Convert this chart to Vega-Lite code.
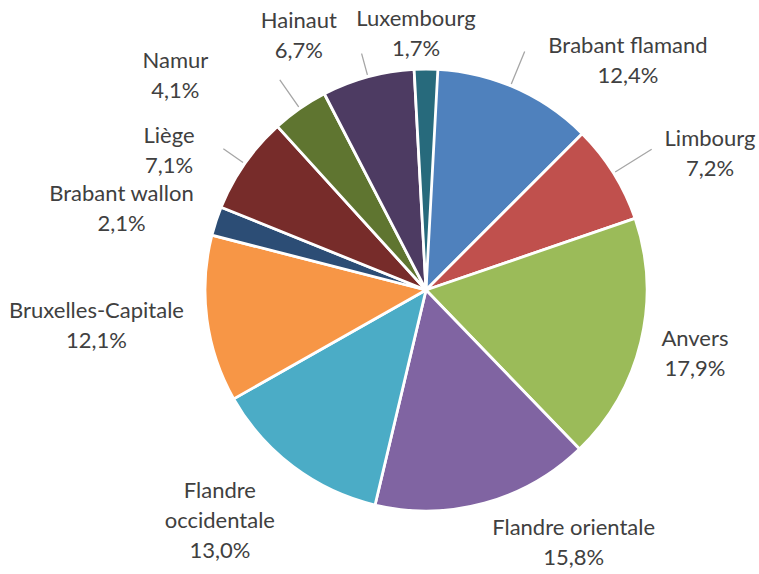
{
  "$schema": "https://vega.github.io/schema/vega-lite/v6.json",
  "autosize": {"type": "none"},
  "width": 440,
  "height": 440,
  "padding": {"left": 206, "top": 70, "right": 113, "bottom": 64},
  "background": "white",
  "config": {
    "view": {"stroke": null},
    "text": {"font": "Lato", "fontSize": 22, "fill": "#404040", "lineBreak": "|", "lineHeight": 30, "align": "center", "baseline": "middle"}
  },
  "data": {
    "values": [
      {"i": 1, "region": "Brabant flamand", "value": 12.4},
      {"i": 2, "region": "Limbourg", "value": 7.2},
      {"i": 3, "region": "Anvers", "value": 17.9},
      {"i": 4, "region": "Flandre orientale", "value": 15.8},
      {"i": 5, "region": "Flandre occidentale", "value": 13.0},
      {"i": 6, "region": "Bruxelles-Capitale", "value": 12.1},
      {"i": 7, "region": "Brabant wallon", "value": 2.1},
      {"i": 8, "region": "Liège", "value": 7.1},
      {"i": 9, "region": "Namur", "value": 4.1},
      {"i": 10, "region": "Hainaut", "value": 6.7},
      {"i": 11, "region": "Luxembourg", "value": 1.7}
    ]
  },
  "transform": [
    {"stack": "value", "groupby": [], "sort": [{"field": "i", "order": "ascending"}], "as": ["v0", "v1"]},
    {"calculate": "(datum.v0 + datum.v1) / 2", "as": "mid"},
    {"calculate": "(datum.region === 'Flandre occidentale' ? 'Flandre|occidentale' : datum.region) + '|' + replace(format(datum.value, '.1f'), '.', ',') + '%'", "as": "label"}
  ],
  "layer": [
    {
      "mark": {"type": "arc", "radius": 221, "stroke": "white", "strokeWidth": 2.8},
      "encoding": {
        "theta": {"field": "v0", "type": "quantitative", "stack": null, "scale": {"nice": false}},
        "theta2": {"field": "v1"},
        "color": {
          "field": "region", "type": "nominal", "legend": null,
          "scale": {
            "domain": ["Brabant flamand", "Limbourg", "Anvers", "Flandre orientale", "Flandre occidentale", "Bruxelles-Capitale", "Brabant wallon", "Liège", "Namur", "Hainaut", "Luxembourg"],
            "range": ["#4F81BD", "#C0504D", "#9BBB59", "#8064A2", "#4BACC6", "#F79646", "#2C4D75", "#772C2A", "#5F7530", "#4D3B62", "#276A7C"]
          }
        }
      }
    },
    {"transform": [{"filter": "datum.region === 'Brabant flamand'"}], "mark": {"type": "arc", "filled": false, "color": "#A6A6A6", "strokeWidth": 1.3, "radius": 258, "radius2": 223}, "encoding": {"theta": {"field": "mid", "type": "quantitative", "stack": null}, "theta2": {"field": "mid"}}},
    {"transform": [{"filter": "datum.region === 'Limbourg'"}], "mark": {"type": "arc", "filled": false, "color": "#A6A6A6", "strokeWidth": 1.3, "radius": 266, "radius2": 223}, "encoding": {"theta": {"field": "mid", "type": "quantitative", "stack": null}, "theta2": {"field": "mid"}}},
    {"transform": [{"filter": "datum.region === 'Liège'"}], "mark": {"type": "arc", "filled": false, "color": "#A6A6A6", "strokeWidth": 1.3, "radius": 247, "radius2": 223}, "encoding": {"theta": {"field": "mid", "type": "quantitative", "stack": null}, "theta2": {"field": "mid"}}},
    {"transform": [{"filter": "datum.region === 'Namur'"}], "mark": {"type": "arc", "filled": false, "color": "#A6A6A6", "strokeWidth": 1.3, "radius": 256, "radius2": 223}, "encoding": {"theta": {"field": "mid", "type": "quantitative", "stack": null}, "theta2": {"field": "mid"}}},
    {"transform": [{"filter": "datum.region === 'Hainaut'"}], "mark": {"type": "arc", "filled": false, "color": "#A6A6A6", "strokeWidth": 1.3, "radius": 245, "radius2": 223}, "encoding": {"theta": {"field": "mid", "type": "quantitative", "stack": null}, "theta2": {"field": "mid"}}},
    {"transform": [{"filter": "datum.region === 'Brabant flamand'"}], "mark": {"type": "text", "radius": 290, "dx": 91, "dy": 24}, "encoding": {"theta": {"field": "mid", "type": "quantitative", "stack": null}, "text": {"field": "label"}}},
    {"transform": [{"filter": "datum.region === 'Limbourg'"}], "mark": {"type": "text", "radius": 290, "dx": 38, "dy": 3}, "encoding": {"theta": {"field": "mid", "type": "quantitative", "stack": null}, "text": {"field": "label"}}},
    {"transform": [{"filter": "datum.region === 'Anvers'"}], "mark": {"type": "text", "radius": 290, "dx": -13, "dy": -19}, "encoding": {"theta": {"field": "mid", "type": "quantitative", "stack": null}, "text": {"field": "label"}}},
    {"transform": [{"filter": "datum.region === 'Flandre orientale'"}], "mark": {"type": "text", "radius": 290, "dx": 71, "dy": -42}, "encoding": {"theta": {"field": "mid", "type": "quantitative", "stack": null}, "text": {"field": "label"}}},
    {"transform": [{"filter": "datum.region === 'Flandre occidentale'"}], "mark": {"type": "text", "radius": 290, "dx": -32, "dy": -31}, "encoding": {"theta": {"field": "mid", "type": "quantitative", "stack": null}, "text": {"field": "label"}}},
    {"transform": [{"filter": "datum.region === 'Bruxelles-Capitale'"}], "mark": {"type": "text", "radius": 290, "dx": -42, "dy": -17}, "encoding": {"theta": {"field": "mid", "type": "quantitative", "stack": null}, "text": {"field": "label"}}},
    {"transform": [{"filter": "datum.region === 'Brabant wallon'"}], "mark": {"type": "text", "radius": 290, "dx": -29, "dy": -6}, "encoding": {"theta": {"field": "mid", "type": "quantitative", "stack": null}, "text": {"field": "label"}}},
    {"transform": [{"filter": "datum.region === 'Liège'"}], "mark": {"type": "text", "radius": 290, "dx": -19, "dy": 12}, "encoding": {"theta": {"field": "mid", "type": "quantitative", "stack": null}, "text": {"field": "label"}}},
    {"transform": [{"filter": "datum.region === 'Namur'"}], "mark": {"type": "text", "radius": 290, "dx": -85, "dy": 9}, "encoding": {"theta": {"field": "mid", "type": "quantitative", "stack": null}, "text": {"field": "label"}}},
    {"transform": [{"filter": "datum.region === 'Hainaut'"}], "mark": {"type": "text", "radius": 290, "dx": -51, "dy": 11}, "encoding": {"theta": {"field": "mid", "type": "quantitative", "stack": null}, "text": {"field": "label"}}},
    {"transform": [{"filter": "datum.region === 'Luxembourg'"}], "mark": {"type": "text", "radius": 290, "dx": -10, "dy": 19}, "encoding": {"theta": {"field": "mid", "type": "quantitative", "stack": null}, "text": {"field": "label"}}}
  ]
}
